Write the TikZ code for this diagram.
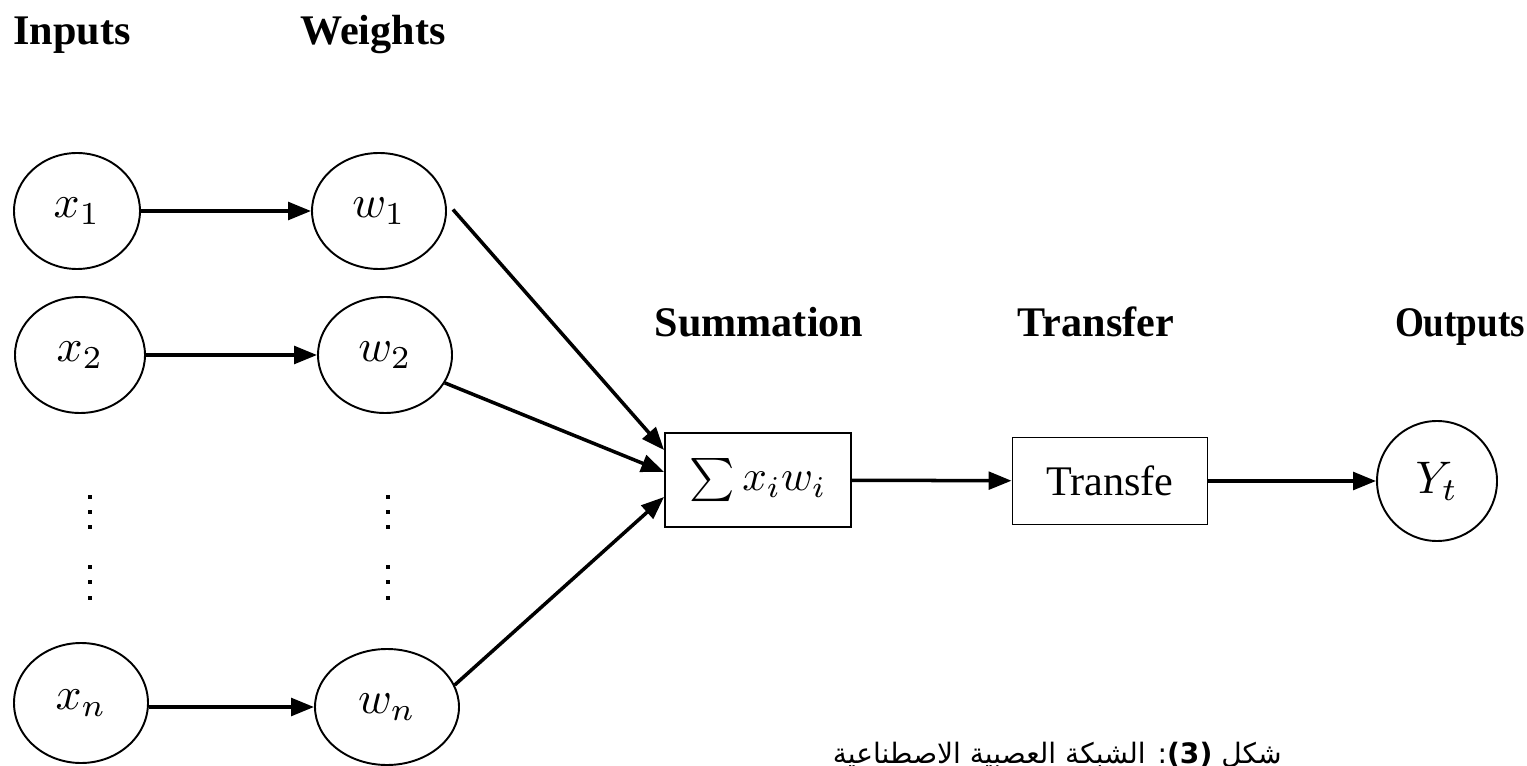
\documentclass[tikz,border=0pt]{standalone}
\usepackage{fontspec}
\setmainfont{Liberation Serif}
\newfontfamily\arabicfont[Script=Arabic]{DejaVu Sans}
\TeXXeTstate=1
\usetikzlibrary{shapes.geometric,arrows.meta,calc}
% math label scaled to the size of the figure
\newcommand{\mlabel}[1]{\scalebox{2.6}{$#1$}}
\begin{document}
\begin{tikzpicture}[x=0.02cm,y=-0.02cm,
  head/.style={font=\fontsize{24}{26}\selectfont\bfseries,anchor=base},
  neuron/.style={ellipse,draw,line width=1.1pt,minimum width=126*0.02cm,minimum height=116*0.02cm,inner sep=0pt,font=\normalsize},
  procbox/.style={rectangle,draw,line width=1.1pt,inner sep=0pt,font=\fontsize{24}{26}\selectfont},
  conn/.style={line width=2pt,-{Triangle[length=13pt,width=10pt]}},
  dotmark/.style={fill=black}]
\useasboundingbox (0,0) rectangle (1527,766);
% headings
\node[head] (hin) at (72,45) {Inputs};
\node[head] (hw) at (373,45) {Weights};
\node[head] (hsum) at (759,337) {Summation};
\node[head] (htr) at (1096,337) {Transfer};
\node[head] (hout) at (1460,337) {\scalebox{0.88}[1]{Outputs}};
% input and weight nodes
\node[neuron] (x1) at (77,211) {\mlabel{x_1}};
\node[neuron,minimum width=134*0.02cm] (w1) at (379,211) {\mlabel{w_1}};
\node[neuron,minimum width=130*0.02cm] (x2) at (80,355) {\mlabel{x_2}};
\node[neuron,minimum width=134*0.02cm] (w2) at (385,355) {\mlabel{w_2}};
\node[neuron,minimum width=134*0.02cm,minimum height=120*0.02cm] (xn) at (81,703) {\mlabel{x_n}};
\node[neuron,minimum width=144*0.02cm] (wn) at (387,707) {\mlabel{w_n}};
% vertical dots
\foreach \yy in {495,510,525,565,580,596}{
  \fill[dotmark] (88,\yy) rectangle ++(4,4);
  \fill[dotmark] (386,\yy) rectangle ++(4,4);
}
% processing
\node[procbox,font=\normalsize,minimum width=186*0.02cm,minimum height=94*0.02cm] (sum) at (758,480)
  {\scalebox{2.45}{$\sum x_i w_i$}};
\node[procbox,minimum width=195*0.02cm,minimum height=87*0.02cm] (tr) at (1110,481) {Transfe};
\node[neuron,minimum width=120*0.02cm,minimum height=120*0.02cm] (y) at (1437,481) {\mlabel{Y_t}};
% connectors
\draw[conn] (x1) -- (w1);
\draw[conn] (x2) -- (w2);
\draw[conn] (xn.east |- wn.west) -- (wn.west);
\draw[conn] ([xshift=0.12cm,yshift=0.03cm]w1.east) -- ([yshift=0.6cm]sum.west);
\draw[conn] (w2.-25) -- ([yshift=0.16cm]sum.west);
\draw[conn] (wn.18) -- ([yshift=-0.34cm]sum.west);
\draw[conn] (sum) -- (tr);
\draw[conn] (tr) -- (y);
% caption
\node[font=\fontsize{16}{18}\selectfont\arabicfont,anchor=base east,inner sep=0pt] (cap) at (1282,763) {\beginR شكل \textbf{(3)}: الشبكة العصبية الاصطناعية\endR};
\end{tikzpicture}
\end{document}
